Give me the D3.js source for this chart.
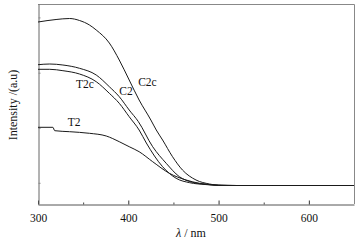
<!DOCTYPE html>
<html>
<head>
<meta charset="utf-8">
<script src="https://cdn.jsdelivr.net/npm/d3@7"></script>
<style>
  body { margin: 0; background: #fff; }
  text { font-family: "Liberation Serif", "DejaVu Serif", serif; fill: #111; }
</style>
</head>
<body>
<div id="chart"></div>
<script>
// wavelength (nm) and intensity (a.u.)
let c2cX = [300, 320, 335, 346, 357, 364.5, 379, 390, 401, 412, 425, 431, 438, 449, 460, 475, 490, 500, 520, 560, 600, 650];
let c2cY = [91, 92.25, 92.75, 91.75, 89.5, 87, 80.5, 72, 62, 52, 42, 37, 32, 23.65, 17, 12, 10, 9.35, 9.25, 9.25, 9.25, 9.25];

let c2X = [300, 313, 327.6, 346, 364.5, 379, 390, 401, 411, 427, 442, 456.6, 471, 486, 500, 520, 560, 600, 650];
let c2Y = [69.65, 70, 69.5, 67.85, 64.5, 58.65, 53.65, 47, 41.3, 28.65, 20.35, 13.65, 10.85, 9.85, 9.35, 9.25, 9.25, 9.25, 9.25];

let t2cX = [300, 313, 327.6, 346, 364.5, 379, 390, 401, 412, 420, 438, 453, 468, 485, 500, 520, 560, 600, 650];
let t2cY = [67.35, 67.35, 66.65, 65, 61.15, 55.35, 50.35, 43.65, 37, 30.5, 18.65, 12.85, 10.65, 9.75, 9.35, 9.25, 9.25, 9.25, 9.25];

let t2X = [300, 316.5, 318.5, 335, 357, 375.6, 390, 401, 412, 427, 445.5, 464, 479, 497, 510, 560, 600, 650];
let t2Y = [38.35, 38.35, 36.65, 36.15, 35.35, 34, 31.15, 28.65, 26.15, 21.15, 15.35, 12, 10.35, 9.5, 9.25, 9.25, 9.25, 9.25];

let xTicks = [300, 400, 500, 600];
let xMinor = [350, 450, 550];
let yMinor = [10.6, 38, 65.65, 93.3];

let series = [
    {name: "C2c", xs: c2cX, ys: c2cY, lx: 411, ly: 59},
    {name: "C2", xs: c2X, ys: c2Y, lx: 390, ly: 54.5},
    {name: "T2c", xs: t2cX, ys: t2cY, lx: 342, ly: 58},
    {name: "T2", xs: t2X, ys: t2Y, lx: 333, ly: 39}
];

let width = 362, height = 246;
let margin = {top: 4, right: 8, bottom: 42, left: 38};
let w = width - margin.left - margin.right;
let h = height - margin.top - margin.bottom;

let svg = d3.select("#chart").append("svg")
    .attr("width", width)
    .attr("height", height);

let g = svg.append("g")
    .attr("transform", "translate(" + margin.left + "," + margin.top + ")");

let x = d3.scaleLinear().domain([300, 650]).range([0, w]);
let y = d3.scaleLinear().domain([0, 100]).range([h, 0]);

// frame (top & right)
g.append("path")
    .attr("d", "M0,0.5H" + (w + 0.5) + "V" + h)
    .attr("fill", "none")
    .attr("stroke", "#888")
    .attr("stroke-width", 1);

// bottom axis, ticks inward
let xAxis = g.append("g")
    .attr("transform", "translate(0," + (h + 0.5) + ")")
    .call(d3.axisBottom(x).tickValues(xTicks).tickSizeInner(-4).tickSizeOuter(0).tickPadding(9));
xAxis.select(".domain").attr("stroke", "#555");
xAxis.selectAll(".tick line").attr("stroke", "#333");
xAxis.selectAll("text")
    .attr("font-size", 11.5)
    .attr("font-family", "Liberation Serif, serif");

xAxis.selectAll(".minor")
    .data(xMinor)
    .enter()
    .append("line")
    .attr("x1", d => x(d) + 0.5).attr("x2", d => x(d) + 0.5)
    .attr("y1", 0).attr("y2", -2)
    .attr("stroke", "#444");

// left axis without labels
let yAxis = g.append("g")
    .attr("transform", "translate(0.5,0)")
    .call(d3.axisLeft(y).tickValues(yMinor).tickSizeInner(-2).tickSizeOuter(0).tickFormat(""));
yAxis.select(".domain").attr("stroke", "#666");
yAxis.selectAll(".tick line").attr("stroke", "#888");

// curves
let line = d3.line()
    .curve(d3.curveMonotoneX)
    .x(d => x(d[0]))
    .y(d => y(d[1]));

g.selectAll(".curve")
    .data(series)
    .enter()
    .append("path")
    .attr("class", "curve")
    .attr("d", s => line(s.xs.map((v, i) => [v, s.ys[i]])))
    .attr("fill", "none")
    .attr("stroke", "#1a1a1a")
    .attr("stroke-width", 1);

// curve labels
g.selectAll(".lab")
    .data(series)
    .enter()
    .append("text")
    .attr("class", "lab")
    .attr("x", s => x(s.lx))
    .attr("y", s => y(s.ly))
    .attr("font-size", 11.5)
    .text(s => s.name);

// axis titles
let xt = svg.append("text")
    .attr("x", margin.left + w / 2 - 5)
    .attr("y", 237)
    .attr("text-anchor", "middle")
    .attr("font-size", 12);
xt.append("tspan").attr("font-style", "italic").text("λ");
xt.append("tspan").text(" / nm");

svg.append("text")
    .attr("transform", "translate(17,105) rotate(-90)")
    .attr("text-anchor", "middle")
    .attr("font-size", 12)
    .text("Intensity /(a.u)");
</script>
</body>
</html>
